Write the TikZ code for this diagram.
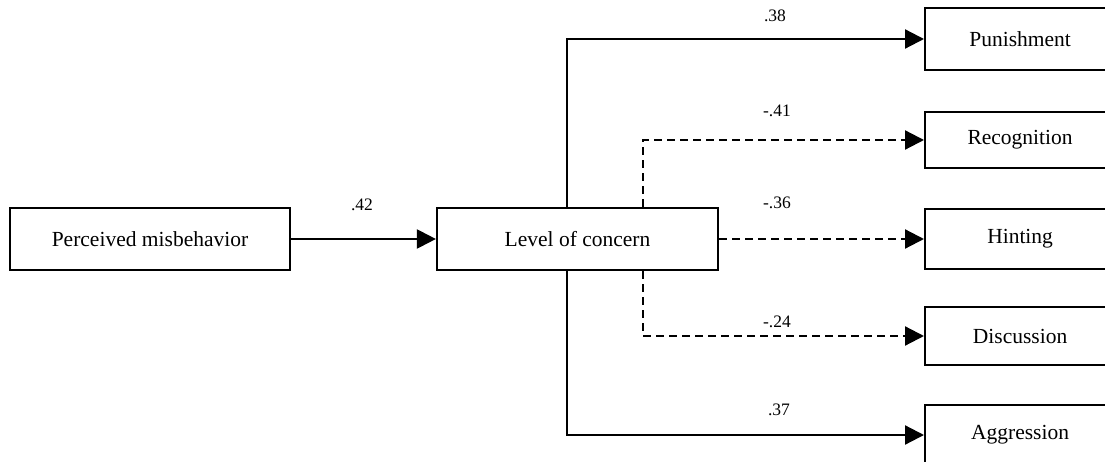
\documentclass[tikz,border=0pt]{standalone}
\usepackage{fontspec}
\setmainfont{Liberation Serif}
\usetikzlibrary{arrows.meta}
\begin{document}
\begin{tikzpicture}[x=1pt,y=-1pt,
  box/.style={draw, line width=2.2pt, minimum height=60pt, inner sep=0pt, font=\fontsize{21.5}{25}\selectfont},
  rbox/.style={box, minimum width=190pt, anchor=west},
  conn/.style={line width=2.2pt, -{Triangle[length=19pt,width=19pt]}},
  dconn/.style={conn, dash pattern=on 8pt off 5pt},
  lab/.style={font=\fontsize{17.5}{20}\selectfont}]
\clip (0,0) rectangle (1105,462);
\useasboundingbox (0,0) rectangle (1105,462);
\node[box, minimum width=280pt, minimum height=62pt] (per) at (150,239) {Perceived misbehavior};
\node[box, minimum width=281pt, minimum height=62pt] (lvl) at (577.5,239) {Level of concern};
\node[rbox, minimum height=62pt] (pun) at (924,39) {Punishment};
\node[rbox, minimum height=56pt] (rec) at (924,140) {Recognition};
\node[rbox, minimum height=60pt] (hin) at (924,239) {Hinting};
\node[rbox, minimum height=58pt] (dis) at (924,336) {Discussion};
\node[rbox, minimum height=60pt] (agg) at (924,435) {Aggression};
\coordinate (sn) at ([xshift=-10.5pt]lvl.north);
\coordinate (ss) at ([xshift=-10.5pt]lvl.south);
\coordinate (dn) at ([xshift=65.5pt]lvl.north);
\coordinate (ds) at ([xshift=65.5pt]lvl.south);
\draw[conn] (per.east) -- (lvl.west);
\draw[conn] (sn) |- (pun.west);
\draw[conn] (ss) |- (agg.west);
\draw[dconn] (dn) |- (rec.west);
\draw[dconn] (ds) |- (dis.west);
\draw[dconn] (lvl.east) -- (hin.west);
\node[lab] (l42) at (362,205) {.42};
\node[lab] (l38) at (775,16) {.38};
\node[lab] (l41) at (777,111) {-.41};
\node[lab] (l36) at (777,203) {-.36};
\node[lab] (l24) at (777,322) {-.24};
\node[lab] (l37) at (779,410) {.37};
\end{tikzpicture}
\end{document}
